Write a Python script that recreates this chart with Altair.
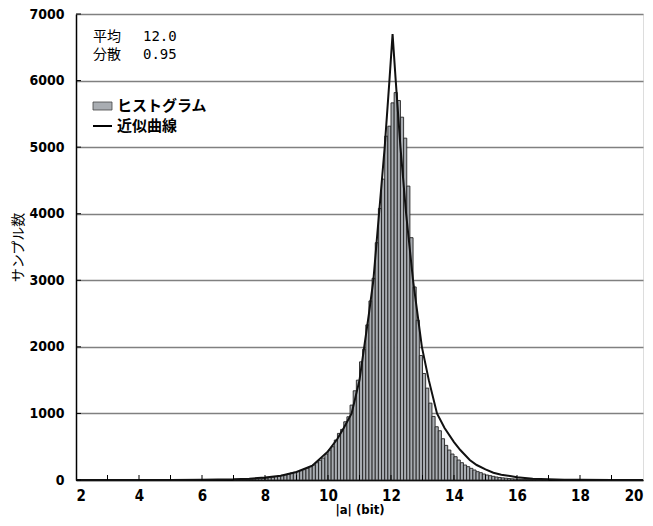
import altair as alt
import pandas as pd

# ---- data ----
bin_left = [round(7.0 + 0.1 * i, 1) for i in range(100)]
counts = [
    3, 4, 5, 6, 8, 10, 12, 15, 18, 22,              # 7.x
    28, 35, 42, 50, 60, 70, 80, 92, 105, 115,       # 8.x
    128, 140, 155, 175, 200, 225, 260, 295, 330, 390,  # 9.x
    450, 500, 600, 700, 760, 875, 950, 1125, 1340, 1500,  # 10.x
    1775, 1965, 2330, 2690, 3030, 3565, 4080, 4520, 5165, 5315,  # 11.x
    5665, 5820, 5700, 5450, 5135, 4415, 3640, 2900, 2400, 1870,  # 12.x
    1600, 1380, 1155, 955, 800, 740, 620, 520, 450, 390,  # 13.x
    350, 300, 260, 225, 200, 175, 150, 125, 110, 90,  # 14.x
    75, 65, 55, 45, 38, 32, 27, 22, 18, 15,  # 15.x
    12, 10, 8, 7, 6, 5, 4, 3, 3, 2,  # 16.x
]
curve_x = [2, 3, 4, 5, 6, 6.5, 7, 7.5, 8, 8.5, 9, 9.5, 10, 10.3, 10.5, 10.75,
           11.0, 11.15, 11.3, 11.44, 11.62, 11.8, 11.95, 12.05, 12.15, 12.3,
           12.48, 12.7, 12.98, 13.2, 13.46, 13.7, 14.0, 14.2, 14.5, 14.72,
           15.0, 15.25, 15.5, 15.78, 16, 16.5, 17, 17.5, 18, 19, 20]
curve_y = [0, 0, 0.3, 1, 3, 6, 10, 20, 38, 65, 120, 215, 430, 620, 780, 1000,
           1500, 2000, 2500, 3000, 4000, 5000, 6000, 6700, 6000, 5000,
           4000, 3000, 2000, 1500, 1000, 780, 570, 450, 300, 225,
           160, 110, 80, 60, 42, 20, 10, 5, 3, 1, 0]
x_label_values = [2, 4, 6, 8, 10, 12, 14, 16, 18, 20]
x_minor_ticks = list(range(3, 20))
y_values = [0, 1000, 2000, 3000, 4000, 5000, 6000, 7000]
stats_names = ["平均", "分散"]
stats_values = ["12.0", "0.95"]
legend_labels = ["ヒストグラム", "近似曲線"]

W, H = 567, 466
NUM_FONT = "Liberation Sans Narrow, DejaVu Sans Condensed, Arial Narrow, sans-serif"
JP_FONT = "Noto Sans CJK JP"

hist_df = pd.DataFrame({
    "left": bin_left,
    "right": [round(b + 0.1, 1) for b in bin_left],
    "count": counts,
    "zero": [0] * len(counts),
})
curve_df = pd.DataFrame({"x": curve_x, "y": curve_y})

xscale = alt.Scale(domain=[2, 20], nice=False, zero=False)
yscale = alt.Scale(domain=[0, 7000], nice=False)

x_axis = alt.Axis(values=x_label_values, title="|a| (bit)", grid=False, ticks=False,
                  labelFont=NUM_FONT, labelFontWeight="bold", labelFontSize=15,
                  labelPadding=8, titleFont=NUM_FONT, titleFontWeight="bold",
                  titleFontSize=13, titlePadding=0, domainColor="black",
                  domainWidth=1.5, labelColor="black", titleColor="black")
y_axis = alt.Axis(values=y_values, title="サンプル数", grid=True, ticks=False,
                  gridColor="#808080", gridWidth=1.5,
                  labelFont=NUM_FONT, labelFontWeight="bold", labelFontSize=14,
                  labelPadding=12, titleFont=JP_FONT, titleFontWeight="normal",
                  titleFontSize=14, titlePadding=3, domainColor="black",
                  domainWidth=1.5, labelColor="black", titleColor="black",
                  format="d")

bars = alt.Chart(hist_df).mark_rect(
    fill="#a9adb2", stroke="#222222", strokeWidth=0.9
).encode(
    x=alt.X("left:Q", scale=xscale, axis=x_axis),
    x2="right:Q",
    y=alt.Y("count:Q", scale=yscale, axis=y_axis),
    y2="zero:Q",
)

curve = alt.Chart(curve_df).mark_line(color="#111111", strokeWidth=2).encode(
    x=alt.X("x:Q", scale=xscale),
    y=alt.Y("y:Q", scale=yscale, axis=None),
)

xt = alt.Chart(pd.DataFrame({"t": x_minor_ticks})).mark_rule(
    color="black", strokeWidth=1
).encode(x=alt.X("t:Q", scale=xscale), y=alt.value(H), y2=alt.value(H - 5))

yt = alt.Chart(pd.DataFrame({"t": y_values})).mark_rule(
    color="black", strokeWidth=1
).encode(y=alt.Y("t:Q", scale=yscale, axis=None), x=alt.value(0), x2=alt.value(5))

one = pd.DataFrame({"a": [0]})

row_scale_stats = alt.Scale(domain=[0, 1], range=[23, 41])
row_scale_leg = alt.Scale(domain=[0, 1], range=[92, 112])

stat_names = alt.Chart(pd.DataFrame({"t": stats_names, "row": [0, 1]})).mark_text(
    font=JP_FONT, fontSize=14, align="left", baseline="middle", color="black"
).encode(text="t:N", x=alt.value(17),
         y=alt.Y("row:Q", scale=row_scale_stats, axis=None))
stat_vals = alt.Chart(pd.DataFrame({"t": stats_values, "row": [0, 1]})).mark_text(
    font="DejaVu Sans Mono", fontSize=14, align="left", baseline="middle", color="black"
).encode(text="t:N", x=alt.value(67),
         y=alt.Y("row:Q", scale=row_scale_stats, axis=None))

swatch = alt.Chart(one).mark_rect(
    fill="#a9adb2", stroke="#444444", strokeWidth=0.8
).encode(x=alt.value(17), x2=alt.value(36), y=alt.value(88), y2=alt.value(96))
legline = alt.Chart(one).mark_rule(color="black", strokeWidth=2).encode(
    x=alt.value(17), x2=alt.value(36), y=alt.value(112))
legtext = alt.Chart(pd.DataFrame({"t": legend_labels, "row": [0, 1]})).mark_text(
    font=JP_FONT, fontSize=15, fontWeight="bold", align="left", baseline="middle",
    color="black"
).encode(text="t:N", x=alt.value(41),
         y=alt.Y("row:Q", scale=row_scale_leg, axis=None))

chart = alt.layer(
    bars, curve, xt, yt, stat_names, stat_vals, swatch, legline, legtext
).resolve_scale(y="independent").properties(
    width=W, height=H,
    autosize=alt.AutoSizeParams(type="none"),
    padding={"left": 68, "top": 6, "right": 2, "bottom": 38},
).configure_view(stroke="black", strokeWidth=1.5).configure(background="white")

chart.save("out.html", embed_options={"renderer": "svg", "actions": False})
